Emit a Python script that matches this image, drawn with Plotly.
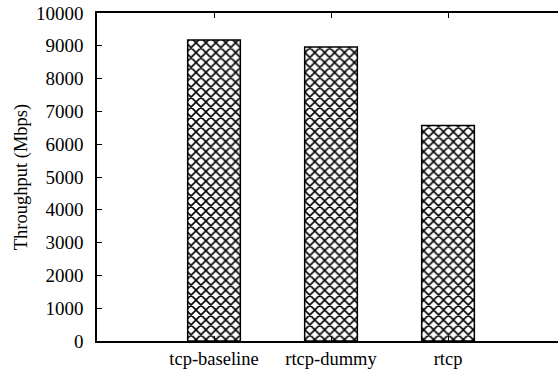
import plotly.graph_objects as go

categories = ["tcp-baseline", "rtcp-dummy", "rtcp"]
throughput = [9180, 8960, 6570]
x_pos = [1, 2, 3]
y_ticks = list(range(0, 10001, 1000))
y_ticktext = [str(v) for v in y_ticks]

fig = go.Figure()
fig.add_trace(go.Bar(
    x=x_pos, y=throughput, width=0.45,
    marker=dict(color="white",
                line=dict(color="black", width=1.5),
                pattern=dict(shape="x", size=7, solidity=0.4, fgcolor="black",
                             fgopacity=1, bgcolor="white")),
))

font = dict(family="Liberation Serif, Times New Roman, serif", size=18.5, color="black")
fig.update_layout(
    width=558, height=371,
    margin=dict(l=97, r=0, t=13, b=30, autoexpand=False),
    paper_bgcolor="white", plot_bgcolor="white",
    showlegend=False, font=font,
    xaxis=dict(range=[0, 3.94], tickvals=x_pos, ticktext=categories, automargin=False,
               showline=True, linecolor="black", linewidth=1.5, mirror="ticks",
               ticks="inside", ticklen=5, tickcolor="black", showgrid=False, zeroline=False,
               tickfont=dict(size=18.5), ticklabelstandoff=0),
    yaxis=dict(range=[0, 10000], tickvals=y_ticks, ticktext=y_ticktext, automargin=False,
               showline=True, linecolor="black", linewidth=1.5, mirror=False,
               ticks="inside", ticklen=5, tickcolor="black", showgrid=False, zeroline=False,
               tickfont=dict(size=19),
               title=dict(text="Throughput (Mbps)", font=dict(size=18.5), standoff=3),
               ticklabelstandoff=8),
)
fig.write_html("out.html", config={"displayModeBar": False},
               post_script="document.body.style.margin='0';document.body.style.padding='0';")
